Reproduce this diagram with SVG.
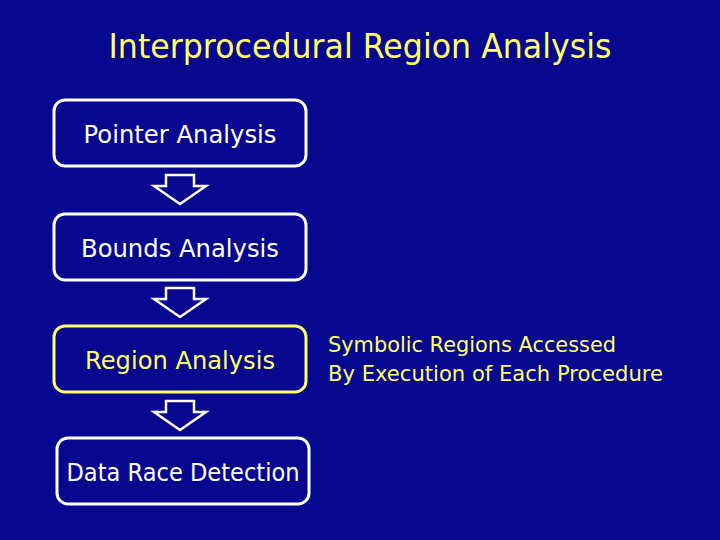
<svg xmlns="http://www.w3.org/2000/svg" width="720" height="540" viewBox="0 0 720 540">
<style>
.box{fill:none;stroke:#ffffff;stroke-width:3}
.hl{stroke:#ffff66}
.t{font-family:"DejaVu Sans","Liberation Sans",sans-serif;fill:#ffffff;text-anchor:middle}
.y{fill:#ffff66}
.arr{fill:none;stroke:#ffffff;stroke-width:2.5;stroke-linejoin:miter}
</style>
<rect width="720" height="540" fill="#07078f"/>
<text class="t y" x="360" y="58" font-size="34" textLength="503" lengthAdjust="spacingAndGlyphs">Interprocedural Region Analysis</text>
<g id="n1"><rect class="box" x="54" y="100" width="252" height="66" rx="11"/><text class="t" x="180" y="143" font-size="25" textLength="193" lengthAdjust="spacingAndGlyphs">Pointer Analysis</text></g>
<g id="n2"><rect class="box" x="54" y="214" width="252" height="66" rx="11"/><text class="t" x="180" y="257" font-size="25" textLength="198" lengthAdjust="spacingAndGlyphs">Bounds Analysis</text></g>
<g id="n3"><rect class="box hl" x="54" y="326" width="252" height="66" rx="11"/><text class="t y" x="180" y="369" font-size="25" textLength="190" lengthAdjust="spacingAndGlyphs">Region Analysis</text></g>
<g id="n4"><rect class="box" x="57" y="438" width="252" height="66" rx="11"/><text class="t" x="183" y="481" font-size="25" textLength="233" lengthAdjust="spacingAndGlyphs">Data Race Detection</text></g>
<g id="note"><text class="t y" x="328" y="352" font-size="22" text-anchor="start" style="text-anchor:start" textLength="288" lengthAdjust="spacingAndGlyphs">Symbolic Regions Accessed</text><text class="t y" x="328" y="381" font-size="22" style="text-anchor:start" textLength="335" lengthAdjust="spacingAndGlyphs">By Execution of Each Procedure</text></g>
<g id="connectors">
<polygon class="arr" points="166,175 194,175 194,186 206,186 180,204 154,186 166,186"/>
<polygon class="arr" points="166,288 194,288 194,299 206,299 180,317 154,299 166,299"/>
<polygon class="arr" points="166,401 194,401 194,412 206,412 180,430 154,412 166,412"/>
</g>
</svg>
